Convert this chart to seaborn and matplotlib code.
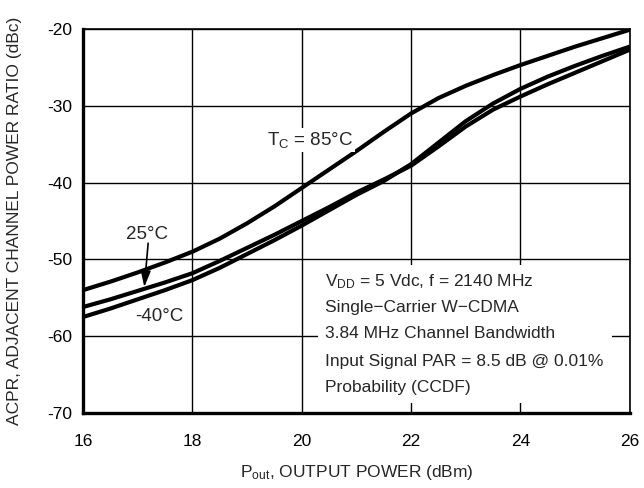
import numpy as np
import pandas as pd
import matplotlib
matplotlib.use("Agg")
import matplotlib.pyplot as plt
from matplotlib.patches import Rectangle
import seaborn as sns

# Output power (dBm)
pout = [16, 16.5, 17, 17.5, 18, 18.5, 19, 19.5, 20, 20.5, 21,
        21.5, 22, 22.5, 23, 23.5, 24, 24.5, 25, 25.5, 26]

# ACPR (dBc) per case temperature
acpr_85 = [-54.0, -52.9, -51.7, -50.4, -49.0, -47.3, -45.3, -43.1, -40.7, -38.3, -35.9,
           -33.4, -31.0, -29.0, -27.4, -26.0, -24.7, -23.5, -22.3, -21.2, -20.1]
acpr_25 = [-56.2, -55.2, -54.1, -53.0, -51.8, -50.2, -48.5, -46.8, -45.0, -43.2, -41.3,
           -39.6, -37.8, -35.3, -32.7, -30.5, -28.8, -27.2, -25.7, -24.2, -22.7]
acpr_m40 = [-57.5, -56.4, -55.2, -54.0, -52.7, -51.1, -49.3, -47.5, -45.6, -43.6, -41.6,
            -39.8, -37.6, -34.8, -32.0, -29.7, -27.8, -26.2, -24.8, -23.5, -22.3]

temps = ["85°C", "25°C", "-40°C"]
x_ticks = [16, 18, 20, 22, 24, 26]
y_ticks = [-70, -60, -50, -40, -30, -20]

conditions = [
    r"V$_{\mathrm{DD}}$ = 5 Vdc, f = 2140 MHz",
    "Single\u2212Carrier W\u2212CDMA",
    "3.84 MHz Channel Bandwidth",
    "Input Signal PAR = 8.5 dB @ 0.01%",
    "Probability (CCDF)",
]

df = pd.concat([
    pd.DataFrame({"Pout": pout, "ACPR": vals, "Tc": t})
    for t, vals in zip(temps, [acpr_85, acpr_25, acpr_m40])
])

sns.set_theme(style="white")
plt.rcParams["font.family"] = ["Liberation Sans", "DejaVu Sans"]
plt.rcParams["mathtext.fontset"] = "custom"
plt.rcParams["mathtext.rm"] = "Liberation Sans"
plt.rcParams["mathtext.it"] = "Liberation Sans"

fig = plt.figure(figsize=(6.44, 4.88), dpi=100)
ax = fig.add_axes([0.129, 0.1537, 0.849, 0.787])

sns.lineplot(data=df, x="Pout", y="ACPR", hue="Tc", palette=["black"] * 3,
             linewidth=3.0, legend=False, ax=ax, zorder=3, sort=False,
             solid_joinstyle="round", solid_capstyle="butt")

ax.set_xlim(16, 26)
ax.set_ylim(-70, -20)
ax.set_xticks(x_ticks)
ax.set_yticks(y_ticks)
ax.set_xticklabels([str(v) for v in x_ticks], fontsize=12.5)
ax.set_yticklabels([str(v) for v in y_ticks], fontsize=12.5)
ax.tick_params(axis="both", length=0, colors="black")
ax.tick_params(axis="y", pad=8)
ax.tick_params(axis="x", pad=15)

ax.set_axisbelow(True)
ax.grid(True, color="black", linewidth=1.0)

for side in ["left", "bottom"]:
    ax.spines[side].set_linewidth(2.4)
for side in ["top", "right"]:
    ax.spines[side].set_linewidth(1.2)
for s in ax.spines.values():
    s.set_color("black")

ax.set_xlabel(r"P$_{\mathrm{out}}$, OUTPUT POWER (dBm)", fontsize=12.5, labelpad=10)
ax.set_ylabel("ACPR, ADJACENT CHANNEL POWER RATIO (dBc)", fontsize=12.5, labelpad=18)

# Curve labels
ax.text(19.36, -34.5, r"T$_{\mathrm{C}}$ = 85°C", fontsize=13.5, ha="left", va="center",
        zorder=4, bbox=dict(facecolor="white", edgecolor="none", pad=1.5))
ax.text(17.17, -46.8, "25°C", fontsize=13.5, ha="center", va="center", zorder=4)
ax.annotate("", xy=(17.12, -53.6), xytext=(17.19, -47.9),
            arrowprops=dict(arrowstyle="-|>,head_length=0.8,head_width=0.25",
                            color="black", lw=1.2, shrinkA=0, shrinkB=0), zorder=4)
ax.text(17.39, -57.5, "-40°C", fontsize=13.5, ha="center", va="center", zorder=4)

# Test conditions block
ax.add_patch(Rectangle((20.3, -68.7), 5.37, 18.0, facecolor="white",
                       edgecolor="none", zorder=1))
for yy, line in zip([-52.9, -56.3, -59.6, -63.3, -66.7], conditions):
    ax.text(20.42, yy, line, fontsize=12.5, ha="left", va="center", zorder=4)

fig.savefig("out.png", dpi=100)
